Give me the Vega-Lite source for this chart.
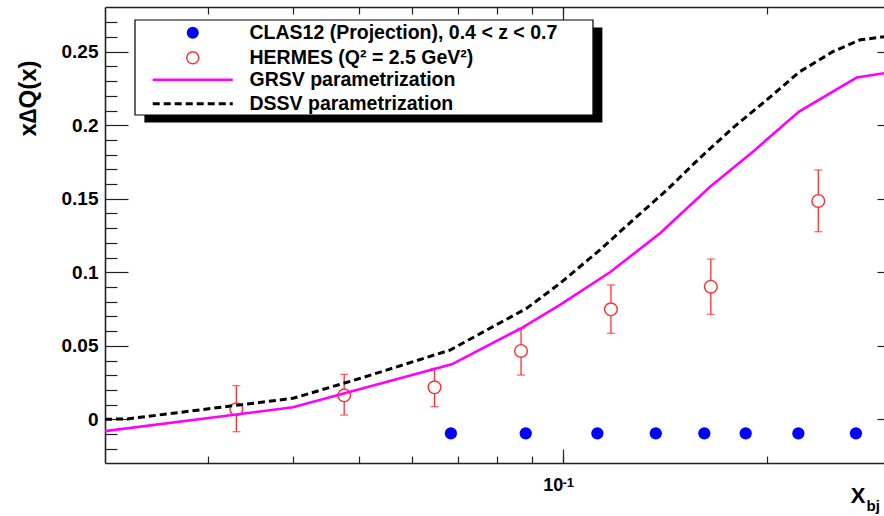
{
  "$schema": "https://vega.github.io/schema/vega-lite/v6.json",
  "width": 779,
  "height": 456,
  "autosize": {"type": "none"},
  "padding": {"left": 105, "top": 7, "right": 0, "bottom": 53},
  "background": "white",
  "config": {
    "view": {"stroke": null},
    "font": "Liberation Sans",
    "axis": {
      "grid": false,
      "labelFont": "Liberation Sans",
      "labelFontWeight": "bold",
      "labelColor": "black",
      "titleFont": "Liberation Sans",
      "titleFontWeight": "bold",
      "titleColor": "black",
      "tickColor": "#222222",
      "tickWidth": 1.2,
      "domainColor": "#222222",
      "domainWidth": 1.6,
      "labelOverlap": false,
      "labelFlush": false
    },
    "legend": {
      "labelFont": "Liberation Sans",
      "labelFontWeight": "bold",
      "labelFontSize": 19.5,
      "labelColor": "black",
      "labelLimit": 0
    }
  },
  "datasets": {
    "hermes": [
      {"x": 0.0330, "y": 0.0068, "lo": -0.0084, "hi": 0.0229, "series": "HERMES"},
      {"x": 0.0476, "y": 0.0163, "lo": 0.0029, "hi": 0.0306, "series": "HERMES"},
      {"x": 0.0647, "y": 0.0218, "lo": 0.0086, "hi": 0.0347, "series": "HERMES"},
      {"x": 0.0868, "y": 0.0465, "lo": 0.0301, "hi": 0.0619, "series": "HERMES"},
      {"x": 0.1178, "y": 0.0748, "lo": 0.0585, "hi": 0.0914, "series": "HERMES"},
      {"x": 0.1654, "y": 0.0902, "lo": 0.0714, "hi": 0.1090, "series": "HERMES"},
      {"x": 0.2383, "y": 0.1485, "lo": 0.1276, "hi": 0.1696, "series": "HERMES"}
    ],
    "clas": [
      {"x": 0.0684, "y": -0.0095, "series": "CLAS12"},
      {"x": 0.0882, "y": -0.0095, "series": "CLAS12"},
      {"x": 0.1125, "y": -0.0095, "series": "CLAS12"},
      {"x": 0.1372, "y": -0.0095, "series": "CLAS12"},
      {"x": 0.1618, "y": -0.0095, "series": "CLAS12"},
      {"x": 0.1862, "y": -0.0095, "series": "CLAS12"},
      {"x": 0.2227, "y": -0.0095, "series": "CLAS12"},
      {"x": 0.2708, "y": -0.0095, "series": "CLAS12"}
    ],
    "grsv": [
      {"x": 0.02112, "y": -0.0080, "series": "GRSV"},
      {"x": 0.0400, "y": 0.0082, "series": "GRSV"},
      {"x": 0.0686, "y": 0.0374, "series": "GRSV"},
      {"x": 0.0868, "y": 0.0619, "series": "GRSV"},
      {"x": 0.0991, "y": 0.0778, "series": "GRSV"},
      {"x": 0.1174, "y": 0.1000, "series": "GRSV"},
      {"x": 0.1392, "y": 0.1265, "series": "GRSV"},
      {"x": 0.1650, "y": 0.1582, "series": "GRSV"},
      {"x": 0.1922, "y": 0.1832, "series": "GRSV"},
      {"x": 0.2232, "y": 0.2093, "series": "GRSV"},
      {"x": 0.2715, "y": 0.2324, "series": "GRSV"},
      {"x": 0.2979, "y": 0.2354, "series": "GRSV"}
    ],
    "dssv": [
      {"x": 0.02112, "y": 0.0000, "series": "DSSV"},
      {"x": 0.0228, "y": 0.0003, "series": "DSSV"},
      {"x": 0.0400, "y": 0.0143, "series": "DSSV"},
      {"x": 0.0503, "y": 0.0279, "series": "DSSV"},
      {"x": 0.0682, "y": 0.0471, "series": "DSSV"},
      {"x": 0.0885, "y": 0.0755, "series": "DSSV"},
      {"x": 0.0991, "y": 0.0925, "series": "DSSV"},
      {"x": 0.1135, "y": 0.1152, "series": "DSSV"},
      {"x": 0.1270, "y": 0.1356, "series": "DSSV"},
      {"x": 0.1425, "y": 0.1560, "series": "DSSV"},
      {"x": 0.1594, "y": 0.1778, "series": "DSSV"},
      {"x": 0.1783, "y": 0.1982, "series": "DSSV"},
      {"x": 0.2000, "y": 0.2172, "series": "DSSV"},
      {"x": 0.2236, "y": 0.2363, "series": "DSSV"},
      {"x": 0.2503, "y": 0.2500, "series": "DSSV"},
      {"x": 0.2747, "y": 0.2581, "series": "DSSV"},
      {"x": 0.2979, "y": 0.2601, "series": "DSSV"}
    ]
  },
  "resolve": {"axis": {"x": "independent", "y": "independent"}},
  "layer": [
    {
      "data": {"name": "hermes"},
      "mark": {"type": "errorbar", "clip": true, "color": "#ff3030", "ticks": {"size": 8, "thickness": 1.3, "color": "#ff3030"}, "rule": {"strokeWidth": 1.3, "color": "#ff3030"}},
      "encoding": {
        "x": {"field": "x", "type": "quantitative", "scale": {"type": "log", "domain": [0.02112, 0.2979], "nice": false}, "axis": null},
        "y": {"field": "lo", "type": "quantitative", "scale": {"domain": [-0.0297, 0.2804], "nice": false, "zero": false}, "axis": null},
        "y2": {"field": "hi"}
      }
    },
    {
      "data": {"name": "hermes"},
      "mark": {"type": "point", "shape": "circle", "size": 160, "filled": false, "fill": "white", "strokeWidth": 1.4, "opacity": 1, "fillOpacity": 1, "clip": true},
      "encoding": {
        "x": {"field": "x", "type": "quantitative", "scale": {"type": "log", "domain": [0.02112, 0.2979], "nice": false},
          "axis": {"orient": "bottom", "values": [0.1], "tickSize": -14, "labelExpr": "'10'", "labelFontSize": 18, "labelOffset": -10, "labelPadding": 27, "domain": true,
            "title": "X", "titleFontSize": 22, "titleX": 760, "titleY": 39, "titleAlign": "right", "titleBaseline": "alphabetic"}},
        "y": {"field": "y", "type": "quantitative", "scale": {"domain": [-0.0297, 0.2804], "nice": false, "zero": false},
          "axis": {"orient": "left", "values": [0, 0.05, 0.1, 0.15, 0.2, 0.25], "tickSize": -23, "labelPadding": 30, "format": "~g", "labelFontSize": 19, "domain": true,
            "title": "x∆Q(x)", "titleFontSize": 24, "titleAngle": 270, "titleX": -77, "titleY": 53, "titleAlign": "right", "titleBaseline": "middle"}},
        "stroke": {"field": "series", "type": "nominal",
          "scale": {"domain": ["HERMES"], "range": ["#ff3030"]},
          "legend": {"title": null, "orient": "none", "legendX": 78, "legendY": 41, "zindex": 3, "padding": 0,
            "symbolType": "circle", "symbolSize": 144, "symbolOffset": 0, "labelOffset": 47,
            "labelExpr": "'HERMES (Q² = 2.5 GeV²)'"}}
      }
    },
    {
      "data": {"name": "grsv"},
      "mark": {"type": "line", "color": "#ff00ff", "clip": true},
      "encoding": {
        "x": {"field": "x", "type": "quantitative", "scale": {"type": "log", "domain": [0.02112, 0.2979], "nice": false},
          "axis": {"orient": "bottom", "values": [0.03, 0.04, 0.05, 0.06, 0.07, 0.08, 0.09, 0.1, 0.2], "tickSize": -7, "labelExpr": "datum.value == 0.1 ? '-1' : ''", "labelFontSize": 13, "labelOffset": 5, "labelPadding": 20, "domain": false,
            "title": "bj", "titleFontSize": 15, "titleX": 761, "titleY": 47, "titleAlign": "left", "titleBaseline": "alphabetic"}},
        "y": {"field": "y", "type": "quantitative", "scale": {"domain": [-0.0297, 0.2804], "nice": false, "zero": false},
          "axis": {"orient": "left", "values": [-0.02, -0.01, 0.01, 0.02, 0.03, 0.04, 0.06, 0.07, 0.08, 0.09, 0.11, 0.12, 0.13, 0.14, 0.16, 0.17, 0.18, 0.19, 0.21, 0.22, 0.23, 0.24, 0.26, 0.27], "tickSize": -12, "labels": false, "domain": false, "title": null}},
        "strokeWidth": {"field": "series", "type": "ordinal",
          "scale": {"type": "ordinal", "domain": ["GRSV"], "range": [2.6]},
          "legend": {"title": null, "orient": "none", "legendX": 78, "legendY": 63, "zindex": 3, "padding": 0,
            "symbolType": "M-6.67,0H6.67", "symbolSize": 144, "symbolOffset": 0, "labelOffset": 47,
            "labelExpr": "'GRSV parametrization'"}}
      }
    },
    {
      "data": {"name": "dssv"},
      "mark": {"type": "line", "color": "black", "strokeWidth": 3, "clip": true},
      "encoding": {
        "x": {"field": "x", "type": "quantitative", "scale": {"type": "log", "domain": [0.02112, 0.2979], "nice": false},
          "axis": {"orient": "top", "values": [0.03, 0.04, 0.05, 0.06, 0.07, 0.08, 0.09, 0.1, 0.2], "tickSize": -7, "labels": false, "domain": true, "title": null}},
        "y": {"field": "y", "type": "quantitative", "scale": {"domain": [-0.0297, 0.2804], "nice": false, "zero": false},
          "axis": {"orient": "right", "values": [0, 0.05, 0.1, 0.15, 0.2, 0.25], "tickSize": -23, "offset": 16, "labels": false, "domain": false, "title": null}},
        "strokeDash": {"field": "series", "type": "nominal",
          "scale": {"domain": ["DSSV"], "range": [[7, 4]]},
          "legend": {"title": null, "orient": "none", "legendX": 78, "legendY": 87, "zindex": 3, "padding": 0,
            "symbolType": "M-6.67,0H6.67", "symbolSize": 144, "symbolOffset": 0, "labelOffset": 47, "symbolStrokeWidth": 3,
            "labelExpr": "'DSSV parametrization'"}}
      }
    },
    {
      "data": {"name": "clas"},
      "mark": {"type": "point", "shape": "circle", "size": 150, "filled": true, "opacity": 1, "clip": true},
      "encoding": {
        "x": {"field": "x", "type": "quantitative", "scale": {"type": "log", "domain": [0.02112, 0.2979], "nice": false},
          "axis": {"orient": "top", "values": [0.1], "tickSize": -14, "labels": false, "domain": false, "title": null}},
        "y": {"field": "y", "type": "quantitative", "scale": {"domain": [-0.0297, 0.2804], "nice": false, "zero": false}, "axis": null},
        "color": {"field": "series", "type": "nominal",
          "scale": {"domain": ["CLAS12"], "range": ["#0000ff"]},
          "legend": {"title": null, "orient": "none", "legendX": 78, "legendY": 16, "zindex": 3, "padding": 0,
            "symbolType": "circle", "symbolSize": 144, "symbolOffset": 0, "labelOffset": 47,
            "labelExpr": "'CLAS12 (Projection), 0.4 < z < 0.7'"}},
        "opacity": {"field": "series", "type": "ordinal",
          "scale": {"type": "ordinal", "domain": ["CLAS12", "CLAS12"], "range": [1]},
          "legend": {"title": null, "orient": "none", "legendX": 32, "legendY": 15, "zindex": 2, "padding": 0,
            "symbolType": "M-1.5,-1.5H74.83V14.33H-1.5Z", "symbolSize": 144, "symbolOffset": 0, "labelOffset": 0,
            "symbolFillColor": "white", "symbolStrokeColor": "black", "symbolStrokeWidth": 1.2, "symbolOpacity": 1,
            "labelFontSize": 1, "labelExpr": "''"}},
        "size": {"field": "series", "type": "ordinal",
          "scale": {"type": "ordinal", "domain": ["CLAS12", "CLAS12", "CLAS12"], "range": [150]},
          "legend": {"title": null, "orient": "none", "legendX": 42, "legendY": 23, "zindex": 1, "padding": 0,
            "symbolType": "M-1.49,-1.49H73.3V14.03H-1.49Z", "symbolOffset": 0, "labelOffset": 0,
            "symbolFillColor": "black", "symbolStrokeColor": "black", "symbolStrokeWidth": 0, "symbolOpacity": 1,
            "labelFontSize": 1, "labelExpr": "''"}}
      }
    }
  ]
}
